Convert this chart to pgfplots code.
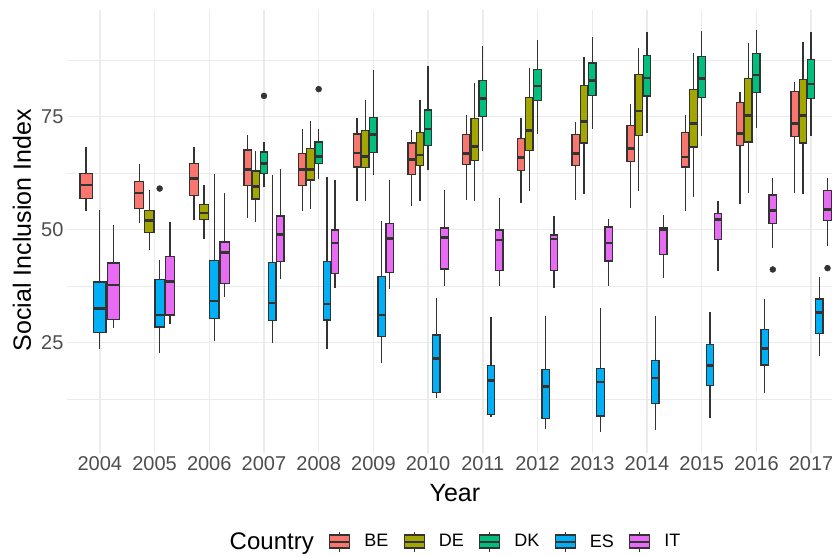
\documentclass[border=0pt]{standalone}
\usepackage{fontspec}
\setmainfont{Liberation Sans}
\usepackage{pgfplots}
\pgfplotsset{compat=1.18}
\usepgfplotslibrary{statistics}
\definecolor{cBE}{HTML}{F8766D}
\definecolor{cDE}{HTML}{A3A500}
\definecolor{cDK}{HTML}{00BF7D}
\definecolor{cES}{HTML}{00B0F6}
\definecolor{cIT}{HTML}{E76BF3}
\definecolor{grey20}{HTML}{333333}
\definecolor{gridc}{HTML}{EBEBEB}
\definecolor{tickc}{HTML}{4D4D4D}
% position, width, lower whisker, lower quartile, median, upper quartile, upper whisker, colour
\newcommand{\bx}[8]{\addplot[forget plot, fill=#8, draw=grey20, line width=1.3pt, line join=miter,
  boxplot prepared={draw direction=y, draw position=#1, box extend=#2, lower whisker=#3, lower quartile=#4,
  median=#5, upper quartile=#6, upper whisker=#7, whisker extend=0}] coordinates {};}
\newcommand{\key}[1]{\addlegendimage{legend image code/.code={%
  \draw[grey20,line width=1.1pt] (10pt,-10pt)--(10pt,10pt);
  \draw[fill=#1,draw=grey20,line width=1.1pt] (0pt,-6.5pt) rectangle (20pt,6.5pt);
  \draw[grey20,line width=2pt] (0pt,0pt)--(20pt,0pt);}}}
\begin{document}
\begin{tikzpicture}
\begin{axis}[
  at={(0pt,0pt)}, anchor=south west,
  scale only axis, width=765pt, height=443pt,
  xmin=-0.6, xmax=13.382, ymin=0.6, ymax=98.6,
  xtick={0,1,2,3,4,5,6,7,8,9,10,11,12,13},
  xticklabels={2004,2005,2006,2007,2008,2009,2010,2011,2012,2013,2014,2015,2016,2017},
  ytick={25,50,75}, minor ytick={12.5,37.5,62.5,87.5},
  xmajorgrids, ymajorgrids, yminorgrids,
  major grid style={draw=gridc, line width=1.4pt},
  minor grid style={draw=gridc, line width=0.7pt},
  axis line style={draw=none},
  tick style={draw=none},
  major tick length=0pt, minor tick length=0pt,
  ticklabel style={font=\fontsize{20}{20}\selectfont, text=tickc},
  /pgf/number format/assume math mode=true,
  xlabel={Year}, ylabel={Social Inclusion Index},
  label style={font=\fontsize{25}{25}\selectfont, text=black},
  xlabel style={at={(axis description cs:0.507,-0.0903)}, anchor=center},
  ylabel style={at={(axis description cs:-0.0588,0.503)}, anchor=center},
  boxplot/draw direction=y,
  boxplot/every median/.style={line width=2.6pt},
  legend columns=-1,
  legend style={at={(axis description cs:0.4984,-0.1998)}, anchor=center, draw=none, fill=none,
    font=\fontsize{18}{18}\selectfont, column sep=13.5pt, nodes={inner sep=0pt},
    /tikz/every even column/.append style={column sep=15pt}},
]
% 2004
\bx{-0.25}{0.225}{54.1}{56.9}{59.9}{62.4}{68.4}{cBE}
\bx{0}{0.225}{23.5}{27.2}{32.6}{38.4}{54.3}{cES}
\bx{0.25}{0.225}{28.2}{30.2}{37.8}{42.6}{51.1}{cIT}
% 2005
\bx{0.71875}{0.16875}{51.4}{54.7}{58.1}{60.7}{64.6}{cBE}
\bx{0.90625}{0.16875}{45.6}{49.4}{52.0}{54.2}{58.7}{cDE}
\bx{1.09375}{0.16875}{22.7}{28.5}{31.1}{39.0}{43.4}{cES}
\bx{1.28125}{0.16875}{29.2}{31.1}{38.6}{44.1}{51.8}{cIT}
% 2006
\bx{1.71875}{0.16875}{52.2}{57.6}{61.3}{64.7}{68.2}{cBE}
\bx{1.90625}{0.16875}{47.9}{52.2}{53.7}{55.5}{59.9}{cDE}
\bx{2.09375}{0.16875}{25.3}{30.4}{34.2}{43.2}{62.3}{cES}
\bx{2.28125}{0.16875}{35.1}{38.1}{45.0}{47.3}{58.2}{cIT}
% 2007
\bx{2.7}{0.135}{52.6}{59.8}{63.3}{67.6}{70.9}{cBE}
\bx{2.85}{0.135}{51.7}{56.8}{59.5}{63.0}{67.5}{cDE}
\bx{3.0}{0.135}{59.5}{62.4}{64.7}{67.2}{69.5}{cDK}
\bx{3.15}{0.135}{24.9}{29.9}{33.8}{42.8}{62.2}{cES}
\bx{3.3}{0.135}{39.2}{42.9}{48.9}{53.0}{63.4}{cIT}
% 2008
\bx{3.7}{0.135}{54.2}{59.7}{63.3}{66.9}{72.2}{cBE}
\bx{3.85}{0.135}{54.6}{61.0}{63.3}{67.9}{74.0}{cDE}
\bx{4.0}{0.135}{61.2}{64.7}{66.2}{69.4}{72.2}{cDK}
\bx{4.15}{0.135}{23.7}{30.0}{33.6}{43.0}{61.7}{cES}
\bx{4.3}{0.135}{37.2}{40.3}{47.1}{49.9}{61.0}{cIT}
% 2009
\bx{4.7}{0.135}{56.3}{63.9}{67.0}{71.2}{74.6}{cBE}
\bx{4.85}{0.135}{56.3}{63.8}{66.2}{71.9}{78.6}{cDE}
\bx{5.0}{0.135}{62.0}{67.0}{71.0}{74.8}{85.4}{cDK}
\bx{5.15}{0.135}{20.4}{26.3}{31.1}{39.7}{51.9}{cES}
\bx{5.3}{0.135}{36.8}{40.5}{48.0}{51.3}{60.9}{cIT}
% 2010
\bx{5.7}{0.135}{55.3}{62.2}{65.5}{69.2}{72.1}{cBE}
\bx{5.85}{0.135}{56.4}{64.2}{66.5}{71.5}{78.7}{cDE}
\bx{6.0}{0.135}{63.2}{68.7}{72.3}{76.5}{86.2}{cDK}
\bx{6.15}{0.135}{12.8}{14.0}{21.5}{26.7}{34.8}{cES}
\bx{6.3}{0.135}{37.5}{41.3}{48.3}{50.4}{58.7}{cIT}
% 2011
\bx{6.7}{0.135}{56.6}{64.4}{66.9}{71.1}{75.4}{cBE}
\bx{6.85}{0.135}{56.3}{65.3}{68.4}{74.6}{82.4}{cDE}
\bx{7.0}{0.135}{67.3}{75.1}{79.0}{83.0}{90.7}{cDK}
\bx{7.15}{0.135}{8.6}{9.1}{16.6}{19.9}{30.6}{cES}
\bx{7.3}{0.135}{37.5}{41.0}{47.7}{49.9}{57.1}{cIT}
% 2012
\bx{7.7}{0.135}{55.8}{63.1}{66.0}{70.1}{74.6}{cBE}
\bx{7.85}{0.135}{58.6}{67.5}{71.9}{79.3}{85.8}{cDE}
\bx{8.0}{0.135}{71.1}{78.6}{81.8}{85.4}{92.0}{cDK}
\bx{8.15}{0.135}{6.0}{8.2}{15.3}{19.1}{30.9}{cES}
\bx{8.3}{0.135}{37.0}{40.9}{47.9}{48.8}{53.1}{cIT}
% 2013
\bx{8.7}{0.135}{56.6}{64.2}{66.9}{71.0}{73.8}{cBE}
\bx{8.85}{0.135}{57.8}{69.2}{74.0}{81.9}{88.3}{cDE}
\bx{9.0}{0.135}{72.3}{79.7}{83.0}{86.9}{92.7}{cDK}
\bx{9.15}{0.135}{5.2}{8.8}{16.3}{19.3}{32.6}{cES}
\bx{9.3}{0.135}{37.5}{43.1}{47.1}{50.6}{52.4}{cIT}
% 2014
\bx{9.7}{0.135}{54.9}{65.1}{67.9}{73.1}{77.9}{cBE}
\bx{9.85}{0.135}{58.6}{70.9}{76.3}{84.4}{90.3}{cDE}
\bx{10.0}{0.135}{71.5}{79.6}{83.6}{88.6}{93.8}{cDK}
\bx{10.15}{0.135}{5.7}{11.5}{17.2}{21.1}{30.8}{cES}
\bx{10.3}{0.135}{39.4}{44.5}{50.1}{50.4}{53.2}{cIT}
% 2015
\bx{10.7}{0.135}{54.2}{63.9}{66.1}{71.5}{75.4}{cBE}
\bx{10.85}{0.135}{57.3}{68.3}{73.5}{81.0}{89.0}{cDE}
\bx{11.0}{0.135}{70.8}{79.2}{83.5}{88.3}{94.0}{cDK}
\bx{11.15}{0.135}{8.4}{15.6}{20.0}{24.6}{31.8}{cES}
\bx{11.3}{0.135}{40.9}{47.9}{52.3}{53.6}{56.3}{cIT}
% 2016
\bx{11.7}{0.135}{55.6}{68.7}{71.3}{78.2}{80.4}{cBE}
\bx{11.85}{0.135}{58.2}{69.4}{75.3}{83.4}{91.3}{cDE}
\bx{12.0}{0.135}{72.4}{80.3}{84.2}{89.0}{94.2}{cDK}
\bx{12.15}{0.135}{13.8}{20.1}{23.7}{27.9}{34.7}{cES}
\bx{12.3}{0.135}{45.9}{51.4}{54.2}{57.7}{61.5}{cIT}
% 2017
\bx{12.7}{0.135}{58.2}{70.6}{73.5}{80.6}{82.6}{cBE}
\bx{12.85}{0.135}{57.8}{69.2}{75.2}{83.3}{91.6}{cDE}
\bx{13.0}{0.135}{70.7}{79.1}{82.2}{87.7}{93.7}{cDK}
\bx{13.15}{0.135}{22.1}{27.1}{31.7}{34.7}{39.5}{cES}
\bx{13.3}{0.135}{46.5}{52.1}{54.5}{58.7}{61.5}{cIT}
% outliers
\addplot[forget plot, only marks, mark=*, mark size=3pt, color=grey20]
  coordinates {(1.09375,59.1) (3.0,79.6) (4.0,81.1) (12.3,41.2) (13.3,41.5)};
% legend
\addlegendimage{empty legend}
\addlegendentry{\fontsize{24}{24}\selectfont Country}
\key{cBE}\addlegendentry{BE}
\key{cDE}\addlegendentry{DE}
\key{cDK}\addlegendentry{DK}
\key{cES}\addlegendentry{ES}
\key{cIT}\addlegendentry{IT}
\end{axis}
\pgfresetboundingbox
\path[use as bounding box] (-67pt,-103pt) rectangle (765pt,453pt);
\end{tikzpicture}
\end{document}
